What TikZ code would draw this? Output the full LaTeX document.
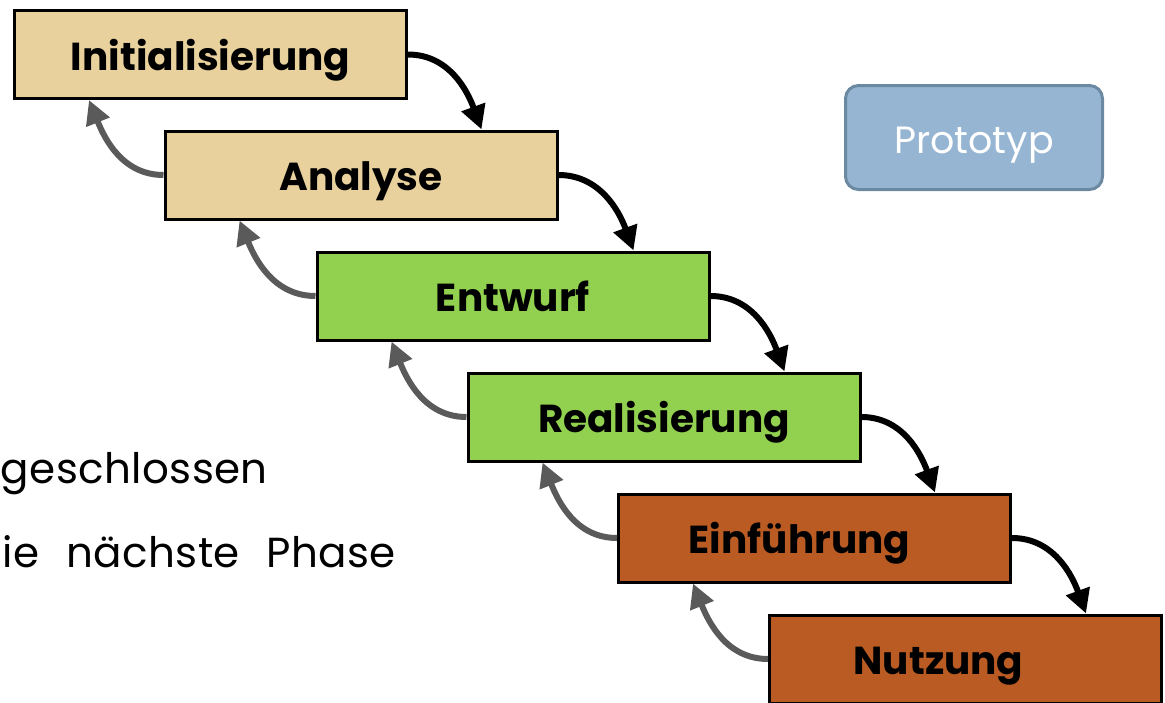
\documentclass[tikz,border=0pt]{standalone}
\usepackage{fontspec}
\setmainfont{Poppins}
\newfontfamily\bodyfont[WordSpace=2.3,LetterSpace=1]{Poppins}
\usetikzlibrary{arrows.meta}

\definecolor{tan}{HTML}{E8D19C}
\definecolor{leaf}{HTML}{92D050}
\definecolor{rust}{HTML}{B95B23}
\definecolor{protofill}{HTML}{95B5D3}
\definecolor{protoline}{HTML}{6C89A2}
\definecolor{backgray}{HTML}{5A5A5A}

\tikzset{
  phase/.style={draw=black, line width=3pt, minimum width=392pt,
    minimum height=88pt, inner sep=0pt, text height=31pt, text depth=0pt,
    font=\bfseries\fontsize{39}{40}\selectfont},
  fwd/.style={draw=black, line width=6pt,
    -{Triangle[width=24pt,length=24pt]}},
  back/.style={draw=backgray, line width=6pt,
    -{Triangle[width=24pt,length=24pt]}},
  bullettext/.style={anchor=base east, inner sep=0pt,
    font=\bodyfont\fontsize{42}{44}\selectfont}
}

\begin{document}
\begin{tikzpicture}[x=1pt,y=1pt]
\useasboundingbox (0,0) rectangle (1165,-702);

% phases of the waterfall model
\node[phase, fill=tan]  (init) at (210.5,-54.5) {Initialisierung};
\node[phase, fill=tan]  (ana)  at (361,-175)    {Analyse};
\node[phase, fill=leaf] (ent)  at (513,-296)    {Entwurf};
\node[phase, fill=leaf] (real) at (664,-417)    {Realisierung};
\node[phase, fill=rust] (einf) at (814.5,-538)  {\hspace*{-30pt}Einführung};
\node[phase, fill=rust] (nutz) at (965.5,-659)  {\hspace*{-54pt}Nutzung};

% prototype box
\node[draw=protoline, fill=protofill, line width=3pt, rounded corners=13pt,
  minimum width=257pt, minimum height=104pt, inner sep=0pt, text=white,
  text height=31pt, text depth=0pt,
  font=\fontsize{38}{40}\selectfont] (proto) at (974,-137.5) {Prototyp};

% forward transitions
\draw[fwd] (init.east) to[out=0,in=110] ([xshift=318pt]ana.north west);
\draw[fwd] (ana.east)  to[out=0,in=110] ([xshift=318pt]ent.north west);
\draw[fwd] (ent.east)  to[out=0,in=110] ([xshift=318pt]real.north west);
\draw[fwd] (real.east) to[out=0,in=110] ([xshift=318pt]einf.north west);
\draw[fwd] (einf.east) to[out=0,in=110] ([xshift=318pt]nutz.north west);

% backward transitions
\draw[back] (ana.west)  to[out=180,in=-68] ([xshift=76pt]init.south west);
\draw[back] (ent.west)  to[out=180,in=-68] ([xshift=76pt]ana.south west);
\draw[back] (real.west) to[out=180,in=-68] ([xshift=76pt]ent.south west);
\draw[back] (einf.west) to[out=180,in=-68] ([xshift=76pt]real.south west);
\draw[back] (nutz.west) to[out=180,in=-68] ([xshift=76pt]einf.south west);

% text lines running in from the left
\node[bullettext] (line1) at (268,-483) {geschlossen};
\node[bullettext] (line2) at (396,-567) {ie nächste Phase};
\end{tikzpicture}
\end{document}
